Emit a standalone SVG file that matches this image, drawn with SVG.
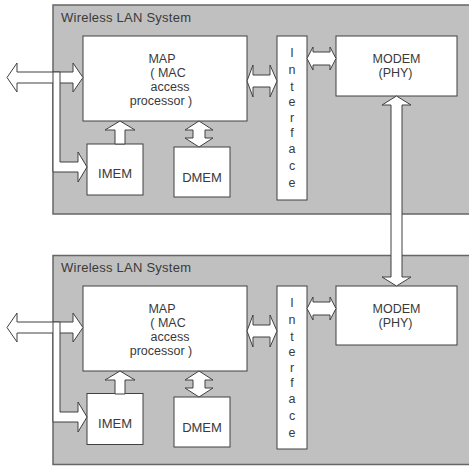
<svg xmlns="http://www.w3.org/2000/svg" width="469" height="466" viewBox="0 0 469 466">
<style>
.panel{fill:#c0c0c0;stroke:#666;stroke-width:1.5}
.box{fill:#fff;stroke:#404040;stroke-width:1}
.arr{fill:#fff;stroke:#404040;stroke-width:1;stroke-linejoin:miter}
text{font-family:"Liberation Sans",Arial,sans-serif;font-size:12.5px;fill:#3a3a3a}
.c{text-anchor:middle}
</style>
<rect width="469" height="466" fill="#fff"/>
<defs>
<g id="sys">
<rect class="panel" x="53" y="5" width="430" height="209"/>
<text x="61" y="21.5" style="font-size:13px" textLength="130" lengthAdjust="spacing">Wireless LAN System</text>
</g>
</defs>

<g id="system1">
<use href="#sys"/>
</g>
<g id="system2">
<use href="#sys" transform="translate(0,250.5)"/>
</g>

<g id="map1">
<rect class="box" x="83" y="36" width="164" height="85"/>
<text class="c" x="162" y="63">MAP</text>
<text class="c" x="168" y="77">( MAC</text>
<text class="c" x="170" y="91">access</text>
<text class="c" x="161" y="105">processor )</text>
</g>
<g id="imem1">
<rect class="box" x="87" y="144" width="56" height="51"/>
<text class="c" x="115" y="178" style="font-size:13px">IMEM</text>
</g>
<g id="dmem1">
<rect class="box" x="174" y="147" width="56" height="50"/>
<text class="c" x="202" y="182" style="font-size:13px">DMEM</text>
</g>
<g id="interface1">
<rect class="box" x="277" y="36" width="30" height="164"/>
<text class="c" x="292" y="57">I</text>
<text class="c" x="292" y="74">n</text>
<text class="c" x="292" y="91">t</text>
<text class="c" x="292" y="106">e</text>
<text class="c" x="292" y="122">r</text>
<text class="c" x="292" y="137">f</text>
<text class="c" x="292" y="153">a</text>
<text class="c" x="292" y="170">c</text>
<text class="c" x="292" y="187">e</text>
</g>
<g id="modem1">
<rect class="box" x="336" y="36" width="121" height="60"/>
<text class="c" x="396.5" y="63">MODEM</text>
<text class="c" x="395.5" y="77">(PHY)</text>
</g>

<g id="map2">
<rect class="box" x="83" y="286" width="164" height="85"/>
<text class="c" x="162" y="313">MAP</text>
<text class="c" x="168" y="327">( MAC</text>
<text class="c" x="170" y="341">access</text>
<text class="c" x="161" y="355">processor )</text>
</g>
<g id="imem2">
<rect class="box" x="87" y="393.5" width="56" height="51"/>
<text class="c" x="115" y="427.5" style="font-size:13px">IMEM</text>
</g>
<g id="dmem2">
<rect class="box" x="174" y="397" width="56" height="50"/>
<text class="c" x="202" y="432" style="font-size:13px">DMEM</text>
</g>
<g id="interface2">
<rect class="box" x="277" y="286" width="30" height="163"/>
<text class="c" x="292" y="307">I</text>
<text class="c" x="292" y="324">n</text>
<text class="c" x="292" y="341">t</text>
<text class="c" x="292" y="356">e</text>
<text class="c" x="292" y="372">r</text>
<text class="c" x="292" y="387">f</text>
<text class="c" x="292" y="403">a</text>
<text class="c" x="292" y="420">c</text>
<text class="c" x="292" y="437">e</text>
</g>
<g id="modem2">
<rect class="box" x="336" y="286" width="121" height="59"/>
<text class="c" x="396.5" y="313">MODEM</text>
<text class="c" x="395.5" y="327">(PHY)</text>
</g>

<g id="connectors">
<g id="conn1">
<polygon class="arr" points="7,77.5 17,63 17,72 73,72 73,63 83,77.5 73,92 73,83 17,83 17,92"/>
<polygon class="arr" points="53,72 60,72 60,162 78,162 78,152 87,167 78,182 78,172 53,172"/>
<polygon class="arr" points="115,144 115,130 105,130 120,121 135,130 125,130 125,144"/>
<polygon class="arr" points="199,121 213,130 205,130 205,138 213,138 199,147 185,138 193,138 193,130 185,130"/>
<polygon class="arr" points="247,81 253,65 253,75 270,75 270,65 277,81 270,97 270,87 253,87 253,97"/>
<polygon class="arr" points="307,58.5 313,47 313,52 330,52 330,47 336,58.5 330,70 330,65 313,65 313,70"/>
</g>
<g id="conn2" transform="translate(0,250)">
<polygon class="arr" points="7,77.5 17,63 17,72 73,72 73,63 83,77.5 73,92 73,83 17,83 17,92"/>
<polygon class="arr" points="53,72 60,72 60,162 78,162 78,152 87,167 78,182 78,172 53,172"/>
<polygon class="arr" points="115,144 115,130 105,130 120,121 135,130 125,130 125,144"/>
<polygon class="arr" points="199,121 213,130 205,130 205,138 213,138 199,147 185,138 193,138 193,130 185,130"/>
<polygon class="arr" points="247,81 253,65 253,75 270,75 270,65 277,81 270,97 270,87 253,87 253,97"/>
<polygon class="arr" points="307,58.5 313,47 313,52 330,52 330,47 336,58.5 330,70 330,65 313,65 313,70"/>
</g>
<polygon id="modem-link" class="arr" points="396.5,96 411,105 402,105 402,277 411,277 396.5,286 382,277 391,277 391,105 382,105"/>
</g>
</svg>
